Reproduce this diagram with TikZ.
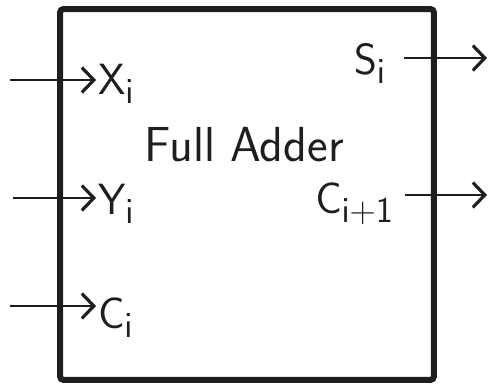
\documentclass[tikz,border=0pt]{standalone}
\usepackage{amsmath}
\usepackage{tikz}
\usetikzlibrary{arrows.meta,positioning}
\definecolor{ink}{HTML}{1E1E1E}
\tikzset{
  >={Straight Barb[length=2.4mm,width=5mm,line width=1.8pt]},
  blk/.style={draw=ink,line width=3.4pt,rounded corners=2pt,minimum width=7.48cm,minimum height=7.42cm,inner sep=0pt},
  sig/.style={->,draw=ink,line width=0.9pt},
  lab/.style={font=\fontsize{32}{34}\selectfont\sffamily,text=ink,inner sep=1pt},
  ttl/.style={font=\fontsize{28}{30}\selectfont\sffamily,text=ink,inner sep=1pt},
}
\begin{document}
\begin{tikzpicture}[x=0.02cm,y=-0.02cm]
\useasboundingbox (0,0) rectangle (488,385);
% adder block
\node[blk] (fa) at (247,194.5) {};
\node[ttl] (name) at (244,145) {Full Adder};
% inputs
\node[lab,anchor=west] (xi) at (96,84) {$\mathsf{X}_{\mathsf{i}}$};
\node[lab,anchor=west] (yi) at (96,204) {$\mathsf{Y}_{\mathsf{i}}$};
\node[lab,anchor=west] (ci) at (96,318) {$\mathsf{C}_{\mathsf{i}}$};
\coordinate (xin) at (10,80);
\coordinate (yin) at (13,198);
\coordinate (cin) at (10,306);
\draw[sig] (xin) -- (xi.west |- xin);
\draw[sig] (yin) -- (yi.west |- yin);
\draw[sig] (cin) -- (ci.west |- cin);
% outputs
\node[lab,anchor=east] (si) at (388,64) {$\mathsf{S}_{\mathsf{i}}$};
\node[lab,anchor=east] (co) at (396,204) {$\mathsf{C}_{\mathsf{i+1}}$};
\coordinate (sout) at (487,58);
\coordinate (cout) at (487,195);
\draw[sig] (si.east |- sout) ++(16,0) -- (sout);
\draw[sig] (co.east |- cout) ++(9,0) -- (cout);
\end{tikzpicture}
\end{document}
